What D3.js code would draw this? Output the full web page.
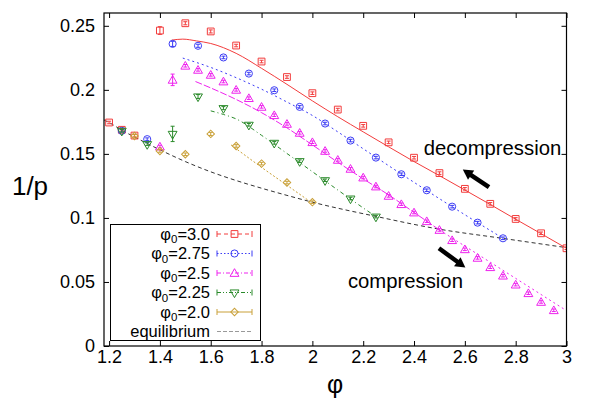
<!DOCTYPE html>
<html><head><meta charset="utf-8">
<script src="https://cdn.jsdelivr.net/npm/d3@7"></script>
<style>
body{margin:0;background:#fff}
svg{display:block}
text{font-family:"Liberation Sans",Arial,Helvetica,sans-serif}
</style>
</head><body>
<svg id="c" width="593" height="415"></svg>
<script>
// ---------- data ----------
const xTicks=[1.2,1.4,1.6,1.8,2.0,2.2,2.4,2.6,2.8,3.0];
const xTickLabels=["1.2","1.4","1.6","1.8","2","2.2","2.4","2.6","2.8","3"];
const yTicks=[0,0.05,0.1,0.15,0.2,0.25];
const yTickLabels=["0","0.05","0.1","0.15","0.2","0.25"];
const seriesNames=["3.0","2.75","2.5","2.25","2.0"];

// measured points [phi, 1/p]
const phi30=[[1.20,0.1745],[1.25,0.1688],[1.30,0.1643],[1.40,0.2463],[1.50,0.2520],[1.60,0.2456],[1.70,0.2346],[1.80,0.2221],[1.90,0.2100],[2.00,0.1974],[2.10,0.1846],[2.20,0.1719],[2.30,0.1590],[2.40,0.1470],[2.50,0.1350],[2.60,0.1227],[2.70,0.1110],[2.80,0.0992],[2.90,0.0880],[3.00,0.0763]];
const err30=[0.001,0.001,0.001,0.003,0.0012,0.0012,0.001,0.001,0.001,0.001,0.001,0.001,0.001,0.001,0.001,0.001,0.001,0.001,0.001,0.001];
const phi275=[[1.25,0.1680],[1.35,0.1615],[1.45,0.2359],[1.55,0.2344],[1.65,0.2253],[1.75,0.2127],[1.85,0.1997],[1.95,0.1867],[2.05,0.1737],[2.15,0.1604],[2.25,0.1471],[2.35,0.1341],[2.45,0.1216],[2.55,0.1088],[2.65,0.0963],[2.75,0.0841]];
const err275=[0.001,0.001,0.002,0.0012,0.001,0.001,0.001,0.001,0.001,0.001,0.001,0.001,0.001,0.001,0.001,0.001];
const phi25=[[1.40,0.1557],[1.45,0.2078],[1.50,0.2188],[1.55,0.2156],[1.60,0.2117],[1.65,0.2065],[1.70,0.2000],[1.75,0.1935],[1.80,0.1867],[1.85,0.1802],[1.90,0.1734],[1.95,0.1664],[2.00,0.1591],[2.05,0.1523],[2.10,0.1453],[2.15,0.1383],[2.20,0.1315],[2.25,0.1245],[2.30,0.1172],[2.35,0.1107],[2.40,0.1042],[2.45,0.0974],[2.50,0.0906],[2.55,0.0826],[2.60,0.0755],[2.65,0.0688],[2.70,0.0615],[2.75,0.0549],[2.80,0.0479],[2.85,0.0412],[2.90,0.0344],[2.95,0.0279]];
const err25=[0.001,0.0045,0.001,0.001,0.001,0.001,0.001,0.001,0.001,0.001,0.001,0.001,0.001,0.001,0.001,0.001,0.001,0.001,0.001,0.001,0.001,0.001,0.001,0.001,0.001,0.001,0.001,0.001,0.001,0.001,0.001,0.001];
const phi225=[[1.25,0.1680],[1.35,0.1576],[1.45,0.1656],[1.55,0.1948],[1.65,0.1857],[1.75,0.1727],[1.85,0.1586],[1.95,0.1443],[2.05,0.1294],[2.15,0.1151],[2.25,0.1010]];
const err225=[0.001,0.001,0.006,0.0015,0.0012,0.001,0.001,0.001,0.001,0.001,0.001];
const phi20=[[1.30,0.1640],[1.40,0.1523],[1.50,0.1497],[1.60,0.1656],[1.70,0.1562],[1.80,0.1424],[1.90,0.1276],[2.00,0.1123]];
const err20=[0.001,0.001,0.001,0.0012,0.001,0.001,0.001,0.001];

// fitted curves
const fit30=[[1.446,0.2388],[1.49,0.2396],[1.544,0.2382],[1.60,0.2362],[1.70,0.2285],[1.80,0.2168],[1.90,0.2043],[2.00,0.1914],[2.10,0.1790],[2.20,0.1672],[2.30,0.1555],[2.40,0.1440],[2.50,0.1330],[2.60,0.1218],[2.70,0.1105],[2.80,0.0990],[2.90,0.0877],[3.00,0.0763]];
const fit275=[[1.49,0.2248],[1.60,0.2175],[1.70,0.2095],[1.80,0.2005],[1.90,0.1905],[2.00,0.1800],[2.10,0.1672],[2.20,0.1540],[2.30,0.1408],[2.40,0.1278],[2.50,0.1150],[2.60,0.1025],[2.70,0.0902],[2.75,0.0841]];
const fit25=[[1.54,0.2065],[1.60,0.2015],[1.70,0.1925],[1.80,0.1822],[1.90,0.1703],[2.00,0.1570],[2.10,0.1435],[2.20,0.1305],[2.30,0.1180],[2.40,0.1043],[2.50,0.0906]];
const fit25c=[[2.50,0.0906],[2.60,0.0780],[2.70,0.0654],[2.80,0.0528],[2.90,0.0402],[3.00,0.0276]];
const fit225=[[1.60,0.1836],[1.65,0.1808],[1.70,0.1773],[1.80,0.1645],[1.90,0.1503],[2.00,0.1361],[2.10,0.1218],[2.20,0.1078],[2.25,0.1010]];
const fit20=[[1.68,0.1570],[1.80,0.1395],[1.90,0.1255],[2.00,0.1115]];
const equilibrium=[[1.18,0.1765],[1.20,0.1745],[1.25,0.1685],[1.30,0.1632],[1.40,0.1532],[1.50,0.1440],[1.60,0.1360],[1.70,0.1292],[1.80,0.1232],[1.90,0.1176],[2.00,0.1123],[2.25,0.1012],[2.50,0.0912],[2.75,0.0840],[3.00,0.0768]];

// annotations (data units)
const annoText=[{t:"decompression",x:2.438,y:0.1492},{t:"compression",x:2.140,y:0.0453}];
const annoArrows=[{from:[2.695,0.1240],to:[2.592,0.1378]},{from:[2.498,0.0763],to:[2.602,0.0612]}];

// ---------- chart ----------
const L=104,R=566.5,T=13,B=346;
const x=d3.scaleLinear().domain([1.18,3.0]).range([L,R]);
const y=d3.scaleLinear().domain([0,0.26]).range([B,T]);
const svg=d3.select("#c");
const FS=18;

const styles=[
 {sym:"square",color:"#f23c3c",legDash:"4,3"},
 {sym:"circle",color:"#3c3cf5",legDash:"1.5,2"},
 {sym:"tri",color:"#ee22ee",legDash:"4,2,1,2"},
 {sym:"tridown",color:"#2a8a2a",legDash:"4,2,1,2,1,2"},
 {sym:"diamond",color:"#c9a038",legDash:null}
];
const pts=[phi30,phi275,phi25,phi225,phi20];
const errs=[err30,err275,err25,err225,err20];
const fits=[[fit30],[fit275],[fit25,fit25c],[fit225],[fit20]];
const fitDashes=[[null],["2,3"],["7,2","2,3"],["4,3,1,3"],["2,2"]];

function symPath(s){
  if(s==="square") return d3.symbol(d3.symbolSquare,46)();
  if(s==="circle") return d3.symbol(d3.symbolCircle,40)();
  if(s==="tri"||s==="tridown") return d3.symbol(d3.symbolTriangle,34)();
  if(s==="diamond") return d3.symbol(d3.symbolSquare,28)();
}
function symTransform(s,px,py){
  if(s==="tridown") return `translate(${px},${py}) rotate(180)`;
  if(s==="diamond") return `translate(${px},${py}) rotate(45)`;
  if(s==="tri") return `translate(${px},${py+0.8})`;
  return `translate(${px},${py})`;
}

// axes (inward ticks, mirrored)
const gx=svg.append("g").attr("transform",`translate(0,${B})`)
 .call(d3.axisBottom(x).tickValues(xTicks).tickFormat((d,i)=>xTickLabels[i]).tickSizeInner(-5).tickSizeOuter(0).tickPadding(4));
const gy=svg.append("g").attr("transform",`translate(${L},0)`)
 .call(d3.axisLeft(y).tickValues(yTicks).tickFormat((d,i)=>yTickLabels[i]).tickSizeInner(-5).tickSizeOuter(0).tickPadding(9));
const gt=svg.append("g").attr("transform",`translate(0,${T})`)
 .call(d3.axisTop(x).tickValues(xTicks).tickFormat("").tickSizeInner(-5).tickSizeOuter(0));
const gr=svg.append("g").attr("transform",`translate(${R},0)`)
 .call(d3.axisRight(y).tickValues(yTicks).tickFormat("").tickSizeInner(-5).tickSizeOuter(0));
[gx,gy,gt,gr].forEach(g=>{
  g.select(".domain").remove();
  g.selectAll("line").attr("stroke","#000").attr("stroke-width",1);
  g.selectAll("text").attr("font-size",FS).attr("fill","#000").attr("font-family","Liberation Sans, Arial, sans-serif");
});

const line=d3.line().x(d=>x(d[0])).y(d=>y(d[1])).curve(d3.curveMonotoneX);
const plot=svg.append("g");
plot.append("defs").append("clipPath").attr("id","clip").append("rect")
  .attr("x",L).attr("y",T).attr("width",R-L).attr("height",B-T);
const pg=plot.append("g").attr("clip-path","url(#clip)");

// equilibrium
pg.append("path").datum(equilibrium).attr("d",line).attr("fill","none")
  .attr("stroke","#333").attr("stroke-width",1).attr("stroke-dasharray","4,3");

// fits
fits.forEach((fl,i)=>{
  fl.forEach((f,j)=>{
    pg.append("path").datum(f).attr("d",line).attr("fill","none")
      .attr("stroke",styles[i].color).attr("stroke-width",1)
      .attr("stroke-dasharray",fitDashes[i][j]);
  });
});

// points with error bars
pts.forEach((arr,i)=>{
  const st=styles[i];
  const g=pg.append("g");
  arr.forEach((d,k)=>{
    const px=x(d[0]),py=y(d[1]),e=errs[i][k];
    const y1=y(d[1]+e),y2=y(d[1]-e);
    g.append("line").attr("x1",px).attr("x2",px).attr("y1",y1).attr("y2",y2)
      .attr("stroke",st.color).attr("stroke-width",1);
    g.append("line").attr("x1",px-2).attr("x2",px+2).attr("y1",y1).attr("y2",y1).attr("stroke",st.color).attr("stroke-width",1);
    g.append("line").attr("x1",px-2).attr("x2",px+2).attr("y1",y2).attr("y2",y2).attr("stroke",st.color).attr("stroke-width",1);
    g.append("path").attr("d",symPath(st.sym)).attr("transform",symTransform(st.sym,px,py))
      .attr("fill","none").attr("stroke",st.color).attr("stroke-width",1);
  });
});

// border
svg.append("rect").attr("x",L).attr("y",T).attr("width",R-L).attr("height",B-T)
  .attr("fill","none").attr("stroke","#000").attr("stroke-width",1.2);

// axis labels
svg.append("text").attr("x",30).attr("y",195).attr("text-anchor","middle")
  .attr("font-size",26).text("1/p");
svg.append("text").attr("x",335).attr("y",393).attr("text-anchor","middle")
  .attr("font-size",25).text("φ");

// annotations
annoText.forEach(a=>{
  svg.append("text").attr("x",x(a.x)).attr("y",y(a.y)).attr("font-size",20.3).text(a.t);
});
annoArrows.forEach(a=>{
  const x1=x(a.from[0]),y1=y(a.from[1]),x2=x(a.to[0]),y2=y(a.to[1]);
  const dx=x2-x1,dy=y2-y1,len=Math.hypot(dx,dy),ux=dx/len,uy=dy/len;
  const hl=10,hw=5.5;
  const bx=x2-ux*hl,by=y2-uy*hl;
  svg.append("line").attr("x1",x1).attr("y1",y1).attr("x2",bx+ux*1).attr("y2",by+uy*1)
    .attr("stroke","#000").attr("stroke-width",4.5);
  svg.append("path").attr("d",`M${x2},${y2}L${bx-uy*hw},${by+ux*hw}L${bx+uy*hw},${by-ux*hw}Z`).attr("fill","#000");
});

// legend
const lg=svg.append("g");
lg.append("rect").attr("x",110.5).attr("y",224.5).attr("width",150).attr("height",116)
  .attr("fill","#fff").attr("stroke","#000").attr("stroke-width",1);
const rowY=i=>234+i*19.5;
const LFS=16.5;
seriesNames.forEach((n,i)=>{
  const ry=rowY(i),st=styles[i];
  const t=lg.append("text").attr("x",210).attr("y",ry+5.5).attr("text-anchor","end").attr("font-size",LFS);
  t.append("tspan").text("φ");
  t.append("tspan").attr("font-size",11.5).attr("dy",3.5).text("0");
  t.append("tspan").attr("dy",-3.5).text("="+n);
  lg.append("line").attr("x1",217).attr("x2",252).attr("y1",ry).attr("y2",ry)
    .attr("stroke",st.color).attr("stroke-width",1).attr("stroke-dasharray",st.legDash);
  [217,252].forEach(cx=>lg.append("line").attr("x1",cx).attr("x2",cx).attr("y1",ry-3).attr("y2",ry+3).attr("stroke",st.color));
  lg.append("path").attr("d",symPath(st.sym)).attr("transform",symTransform(st.sym,234.5,ry))
    .attr("fill","none").attr("stroke",st.color).attr("stroke-width",1);
});
{
  const ry=rowY(5);
  lg.append("text").attr("x",210).attr("y",ry+5.5).attr("text-anchor","end").attr("font-size",LFS).text("equilibrium");
  lg.append("line").attr("x1",217).attr("x2",252).attr("y1",ry).attr("y2",ry)
    .attr("stroke","#999").attr("stroke-width",1).attr("stroke-dasharray","4,2");
}
</script>
</body></html>
